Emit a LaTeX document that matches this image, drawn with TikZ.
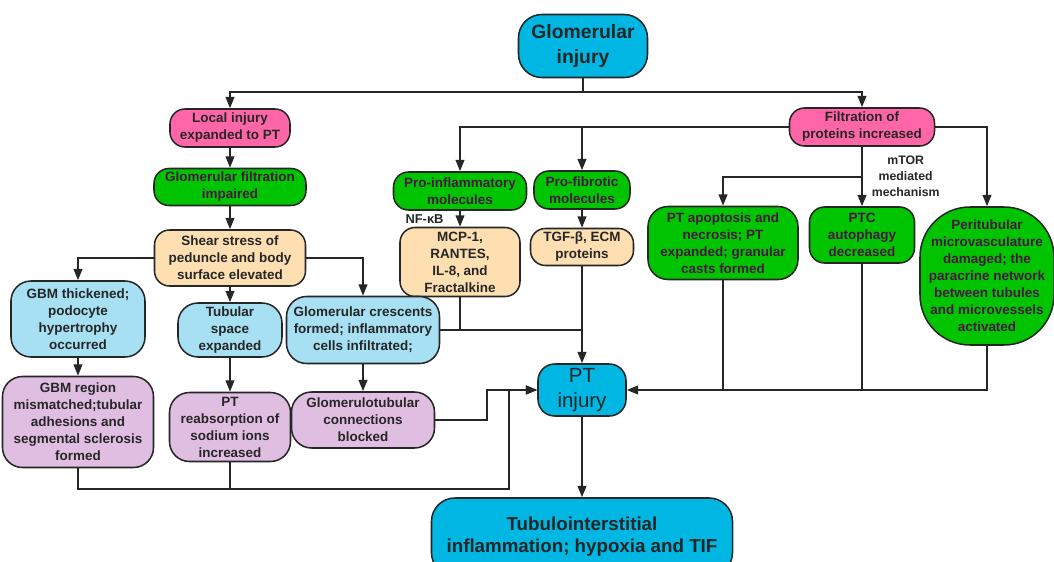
\documentclass[tikz,border=0pt]{standalone}
\usepackage{fontspec}
\setmainfont{Liberation Sans}
\usetikzlibrary{arrows.meta}
\definecolor{corefill}{RGB}{0,182,226}
\definecolor{pinkfill}{RGB}{255,102,168}
\definecolor{greenfill}{RGB}{0,196,0}
\definecolor{peachfill}{RGB}{253,223,178}
\definecolor{skyfill}{RGB}{166,224,242}
\definecolor{lilacfill}{RGB}{224,190,226}
\definecolor{ink}{RGB}{38,38,38}
\definecolor{greenink}{RGB}{72,24,66}

\begin{document}
\begin{tikzpicture}[x=0.03cm, y=-0.03cm, color=ink, font=\bfseries\fontsize{11.5}{14.5}\selectfont,
                    box/.style = {draw=black!85, line width=1.3pt, rounded corners=4.5mm, align=center, inner sep=1pt},
                    core/.style = {box, fill=corefill, rounded corners=7mm, font=\bfseries\fontsize{16.5}{21}\selectfont},
                    pinkb/.style = {box, fill=pinkfill},
                    greenb/.style = {box, fill=greenfill, text=greenink},
                    peachb/.style = {box, fill=peachfill},
                    skyb/.style = {box, fill=skyfill, rounded corners=6mm},
                    lilacb/.style = {box, fill=lilacfill, rounded corners=6mm},
                    link/.style = {line width=1.6pt, -{Triangle[length=3.4mm, width=2.6mm]}},
                    plain/.style = {line width=1.6pt}]
                    \clip (0,0) rectangle (1054,562);
                    \node[core, minimum width=3.87cm, minimum height=1.89cm] (gi) at (583,46) {Glomerular\\injury};
                    \node[pinkb, minimum width=3.6cm, minimum height=1.14cm] (li) at (230,128) {Local injury\\expanded to PT};
                    \node[pinkb, minimum width=4.35cm, minimum height=1.14cm] (fp) at (862,127) {Filtration of\\proteins increased};
                    \node[greenb, minimum width=4.56cm, minimum height=1.11cm] (gf) at (230,187) {Glomerular filtration\\impaired};
                    \node[greenb, minimum width=3.99cm, minimum height=1.14cm] (pi) at (460,191) {Pro-inflammatory\\molecules};
                    \node[greenb, minimum width=2.88cm, minimum height=1.14cm] (pf) at (582,190) {Pro-fibrotic\\molecules};
                    \node[peachb, minimum width=4.53cm, minimum height=1.68cm] (ss) at (230,258) {Shear stress of\\peduncle and body\\surface elevated};
                    \node[peachb, minimum width=3.6cm, minimum height=2.07cm] (mc) at (460,262) {MCP-1,\\RANTES,\\IL-8, and\\Fractalkine};
                    \node[peachb, minimum width=3.09cm, minimum height=1.11cm] (tg) at (582,247) {TGF-β, ECM\\proteins};
                    \node[greenb, minimum width=4.5cm, minimum height=2.19cm, rounded corners=6mm] (pa) at (723,243) {PT apoptosis and\\necrosis; PT\\expanded; granular\\casts formed};
                    \node[greenb, minimum width=3.15cm, minimum height=1.68cm] (pc) at (862,235) {PTC\\autophagy\\decreased};
                    \node[greenb, minimum width=4.02cm, minimum height=4.14cm, rounded corners=15mm] (pm) at (987,276) {Peritubular\\microvasculature\\damaged; the\\paracrine network\\between tubules\\and microvessels\\activated};
                    \node[skyb, minimum width=4.02cm, minimum height=2.28cm] (gt) at (78,319) {GBM thickened;\\podocyte\\hypertrophy\\occurred};
                    \node[skyb, minimum width=3.12cm, minimum height=1.62cm] (ts) at (230,330) {Tubular\\space\\expanded};
                    \node[skyb, minimum width=4.59cm, minimum height=2.01cm] (gc) at (363,330) {Glomerular crescents\\formed; inflammatory\\cells infiltrated;};
                    \node[lilacb, minimum width=4.53cm, minimum height=2.73cm] (gr) at (78,422) {GBM region\\mismatched;tubular\\adhesions and\\segmental sclerosis\\formed};
                    \node[lilacb, minimum width=3.63cm, minimum height=2.07cm] (pr) at (230,427) {PT\\reabsorption of\\sodium ions\\increased};
                    \node[lilacb, minimum width=4.29cm, minimum height=1.68cm] (gb) at (363,420) {Glomerulotubular\\connections\\blocked};
                    \node[core, minimum width=2.64cm, minimum height=1.56cm, rounded corners=5mm, font=\fontsize{17.5}{21}\selectfont] (pt) at (582,390) {PT\\injury};
                    \node[core, minimum width=9.03cm, minimum height=2.34cm, font=\bfseries\fontsize{16}{19}\selectfont] (ti) at (582,537) {Tubulointerstitial\\inflammation; hypoxia and TIF};
                    \coordinate (j0) at (583,92);
                    \coordinate (j1) at (862,177);
                    \coordinate (j2) at (509,489);
                    \coordinate (j3) at (487,390);
                    \coordinate (j4) at (582,330);
                    \draw[plain] (gi) -- (j0);
                    \draw[link] (j0) -| (li);
                    \draw[link] (j0) -| (fp);
                    \draw[link] (li) -- (gf);
                    \draw[link] (gf) -- (ss);
                    \draw[link] (ss) -| (gt);
                    \draw[link] (ss) -| (gc);
                    \draw[link] (ss) -- (ts);
                    \draw[link] (gt) -- (gr);
                    \draw[link] (ts) -- (pr);
                    \draw[link] (gc) -- (gb);
                    \draw[link] (fp) -| (pi);
                    \draw[link] (pf|-fp) -- (pf);
                    \draw[link] (pi) -- node[left=3.5mm, font=\bfseries\fontsize{11}{13}\selectfont] {NF-κB} (mc);
                    \draw[link] (pf) -- (tg);
                    \draw[link] (fp) -- node[right=1.5mm, align=center, font=\bfseries\fontsize{10.5}{13.6}\selectfont] {mTOR\\mediated\\mechanism} (pc);
                    \draw[link] (j1) -| (pa);
                    \draw[link] (fp) -| (pm);
                    \draw[plain] (mc) -- (mc|-j4);
                    \draw[plain] (gc) -- (j4);
                    \draw[link] (tg) -- (pt);
                    \draw[link] (pm) |- (pt);
                    \draw[plain] (pa) -- (pa|-pt);
                    \draw[plain] (pc) -- (pc|-pt);
                    \draw[link] (gb) -| (j3) -- (pt);
                    \draw[link] (gr) |- (j2) -- (j2|-pt) -- (pt);
                    \draw[plain] (pr) -- (pr|-j2);
                    \draw[link] (pt) -- (ti);
                \end{tikzpicture}
\end{document}
